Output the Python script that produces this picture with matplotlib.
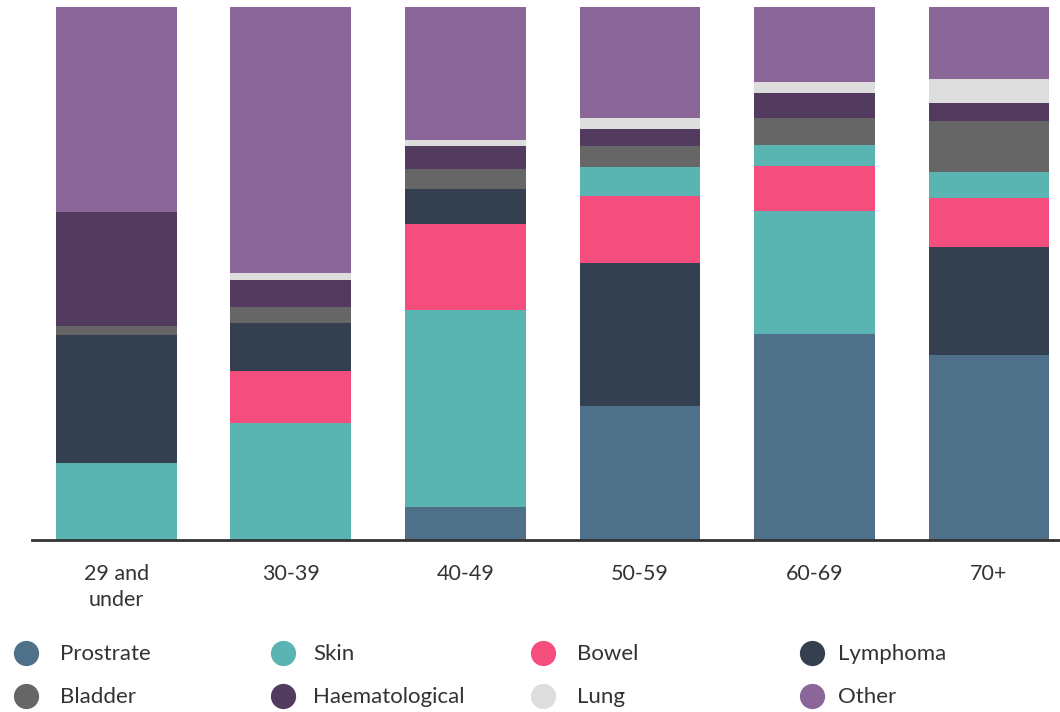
import matplotlib
matplotlib.use("Agg")
import matplotlib.pyplot as plt

# Age groups along the x axis
age_groups = ["29 and\nunder", "30-39", "40-49", "50-59", "60-69", "70+"]

# Cancer types and their colours
series = ["Prostrate", "Skin", "Bowel", "Lymphoma",
          "Bladder", "Haematological", "Lung", "Other"]
colors = {
    "Prostrate": "#4e7189",
    "Skin": "#5ab5b2",
    "Bowel": "#f44e7e",
    "Lymphoma": "#34404f",
    "Bladder": "#666666",
    "Haematological": "#523b5e",
    "Lung": "#dddddd",
    "Other": "#8a6699",
}

# Stack order (bottom to top) and share (%) of each segment per age group
stack_29 = ["Skin", "Lymphoma", "Bladder", "Haematological", "Other"]
share_29 = [14.4, 24.0, 1.7, 21.4, 38.5]

stack_30 = ["Skin", "Bowel", "Lymphoma", "Bladder", "Haematological", "Lung", "Other"]
share_30 = [22.0, 9.8, 8.9, 3.0, 5.1, 1.3, 49.9]

stack_40 = ["Prostrate", "Skin", "Bowel", "Lymphoma", "Bladder", "Haematological", "Lung", "Other"]
share_40 = [6.2, 36.9, 16.1, 6.6, 3.8, 4.3, 1.1, 25.0]

stack_50 = ["Prostrate", "Lymphoma", "Bowel", "Skin", "Bladder", "Haematological", "Lung", "Other"]
share_50 = [25.2, 26.8, 12.6, 5.4, 4.0, 3.2, 1.9, 20.9]

stack_60 = ["Prostrate", "Skin", "Bowel", "Skin", "Bladder", "Haematological", "Lung", "Other"]
share_60 = [38.6, 23.1, 8.5, 4.0, 4.9, 4.8, 2.0, 14.1]

stack_70 = ["Prostrate", "Lymphoma", "Bowel", "Skin", "Bladder", "Haematological", "Lung", "Other"]
share_70 = [34.8, 20.1, 9.3, 4.8, 9.6, 3.4, 4.5, 13.5]

stacks = [stack_29, stack_30, stack_40, stack_50, stack_60, stack_70]
shares = [share_29, share_30, share_40, share_50, share_60, share_70]

plt.rcParams["font.family"] = ["Lato", "DejaVu Sans"]
text_color = "#333333"

fig = plt.figure(figsize=(10.6, 7.12), dpi=100)
ax = fig.add_axes([32 / 1060, 1 - 540 / 712, 1028 / 1060, 533 / 712])

bar_width = 0.693
for i, (names, vals) in enumerate(zip(stacks, shares)):
    bottom = 0.0
    for name, v in zip(names, vals):
        ax.bar(i, v, bottom=bottom, width=bar_width, color=colors[name],
               linewidth=0, zorder=2)
        bottom += v

ax.set_xlim(-0.484, 5.407)
ax.set_ylim(0, 100)
ax.set_yticks([])
ax.set_xticks(range(len(age_groups)))
ax.set_xticklabels(age_groups, fontsize=15.5, color=text_color, linespacing=1.38)
ax.tick_params(axis="x", length=0, pad=17.5)
for side in ["top", "right", "left"]:
    ax.spines[side].set_visible(False)
ax.spines["bottom"].set_color("#333333")
ax.spines["bottom"].set_linewidth(2)
ax.spines["bottom"].set_zorder(3)

# Legend: two rows of four entries with round markers
leg = fig.add_axes([0, 0, 1, 1])
leg.set_xlim(0, 1060)
leg.set_ylim(712, 0)
leg.axis("off")
col_marker_x = [26, 283, 543, 812]
col_text_x = [60, 313, 577, 838]
row_y = [654, 697]
for k, name in enumerate(series):
    r, c = divmod(k, 4)
    leg.scatter(col_marker_x[c], row_y[r] - 1, s=330, color=colors[name],
                linewidths=0)
    leg.text(col_text_x[c], row_y[r], name, fontsize=16, color=text_color,
             va="center", ha="left")

fig.savefig("out.png", dpi=100)
